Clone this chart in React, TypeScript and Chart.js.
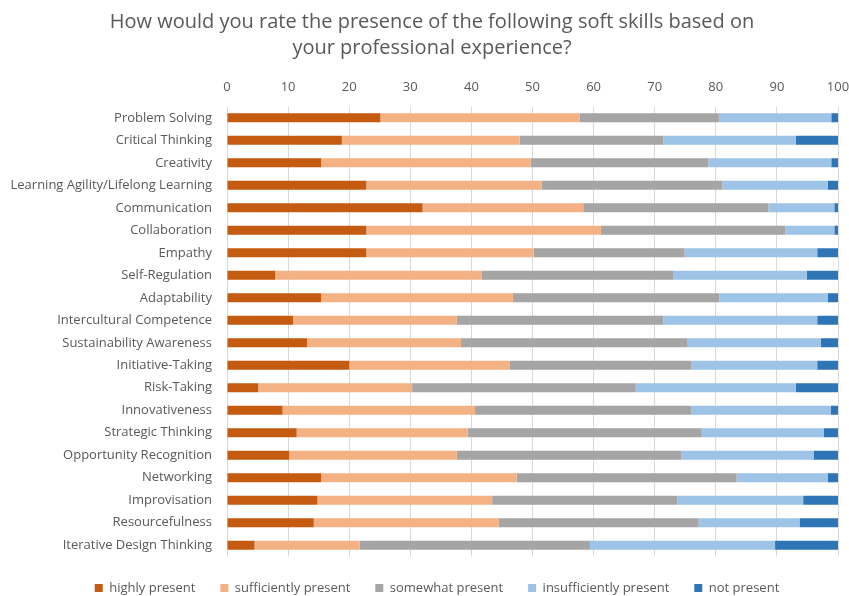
import React, { useEffect, useRef } from "react";
import { Chart, registerables } from "chart.js";

Chart.register(...registerables);

const TITLE_LINES = [
  "How would you rate the presence of the following soft skills based on",
  "your professional experience?",
];

const CATEGORIES = [
  "Problem Solving",
  "Critical Thinking",
  "Creativity",
  "Learning Agility/Lifelong Learning",
  "Communication",
  "Collaboration",
  "Empathy",
  "Self-Regulation",
  "Adaptability",
  "Intercultural Competence",
  "Sustainability Awareness",
  "Initiative-Taking",
  "Risk-Taking",
  "Innovativeness",
  "Strategic Thinking",
  "Opportunity Recognition",
  "Networking",
  "Improvisation",
  "Resourcefulness",
  "Iterative Design Thinking",
];

const HIGHLY = [25.1, 18.8, 15.4, 22.8, 32.0, 22.8, 22.8, 7.9, 15.4, 10.8, 13.1, 20.0, 5.1, 9.1, 11.4, 10.2, 15.4, 14.8, 14.2, 4.5];
const SUFFICIENTLY = [32.6, 29.1, 34.3, 28.7, 26.3, 38.4, 27.4, 33.8, 31.4, 26.8, 25.2, 26.3, 25.2, 31.5, 28.0, 27.4, 32.0, 28.6, 30.3, 17.2];
const SOMEWHAT = [22.8, 23.5, 29.1, 29.6, 30.3, 30.2, 24.7, 31.4, 33.8, 33.8, 37.1, 29.7, 36.6, 35.4, 38.3, 36.7, 36.0, 30.3, 32.7, 37.7];
const INSUFFICIENTLY = [18.4, 21.7, 20.1, 17.2, 10.8, 8.0, 21.7, 21.8, 17.7, 25.2, 21.8, 20.6, 26.2, 22.8, 20.0, 21.7, 14.9, 20.6, 16.5, 30.3];
const NOT_PRESENT = [1.1, 6.9, 1.1, 1.7, 0.6, 0.6, 3.4, 5.1, 1.7, 3.4, 2.8, 3.4, 6.9, 1.2, 2.3, 4.0, 1.7, 5.7, 6.3, 10.3];

const SERIES_NAMES = ["highly present", "sufficiently present", "somewhat present", "insufficiently present", "not present"];
const SERIES_COLORS = ["#C55A11", "#F4B183", "#A5A5A5", "#9DC3E6", "#2E75B6"];

const FONT = '"Open Sans", "DejaVu Sans", sans-serif';
const TEXT_COLOR = "#595959";

export default function App() {
  const canvasRef = useRef<HTMLCanvasElement | null>(null);

  useEffect(() => {
    document.body.style.margin = "0";
    const canvas = canvasRef.current;
    if (!canvas) return;

    const titlePlugin = {
      id: "customTitle",
      afterDraw(chart: any) {
        const ctx = chart.ctx;
        ctx.save();
        ctx.font = `20px ${FONT}`;
        ctx.fillStyle = TEXT_COLOR;
        ctx.textAlign = "center";
        ctx.textBaseline = "middle";
        TITLE_LINES.forEach((line, i) => ctx.fillText(line, 432, 22 + i * 26));
        ctx.restore();
      },
    };

    const legendShift = {
      id: "legendShift",
      afterLayout(chart: any) {
        const lg = chart.legend;
        if (lg) {
          lg.left += 18;
          lg.right += 18;
        }
      },
    };

    const seriesValues = [HIGHLY, SUFFICIENTLY, SOMEWHAT, INSUFFICIENTLY, NOT_PRESENT];
    const Y_AXIS_WIDTH = 227;

    const chart = new Chart(canvas, {
      type: "bar",
      data: {
        labels: CATEGORIES,
        datasets: seriesValues.map((vals, i) => ({
          label: SERIES_NAMES[i],
          data: vals,
          backgroundColor: SERIES_COLORS[i],
          borderWidth: 0,
          barPercentage: 0.8,
          categoryPercentage: 0.5,
        })),
      },
      options: {
        indexAxis: "y",
        animation: false,
        responsive: false,
        maintainAspectRatio: false,
        layout: { padding: { top: 67, left: 0, right: 11, bottom: -8.5 } },
        scales: {
          x: {
            position: "top",
            stacked: true,
            min: 0,
            max: 100,
            ticks: { stepSize: 10, color: TEXT_COLOR, font: { family: FONT, size: 13 }, padding: 12 },
            grid: { color: "#D9D9D9", drawTicks: false },
            border: { display: false },
            afterFit(scale: any) {
              scale.paddingLeft = 0;
              scale.paddingRight = 0;
            },
          },
          y: {
            stacked: true,
            ticks: { color: TEXT_COLOR, font: { family: FONT, size: 13 }, padding: 7, autoSkip: false },
            grid: { display: false },
            border: { display: false },
            afterFit(scale: any) {
              scale.width = Y_AXIS_WIDTH;
            },
          },
        },
        plugins: {
          legend: {
            position: "bottom",
            labels: {
              boxWidth: 8,
              boxHeight: 8,
              color: TEXT_COLOR,
              font: { family: FONT, size: 13 },
              padding: 25,
            },
          },
          title: { display: false },
          tooltip: { enabled: false },
        },
      },
      plugins: [titlePlugin, legendShift],
    });

    return () => chart.destroy();
  }, []);

  return <canvas ref={canvasRef} width={849} height={596} style={{ display: "block" }} />;
}
